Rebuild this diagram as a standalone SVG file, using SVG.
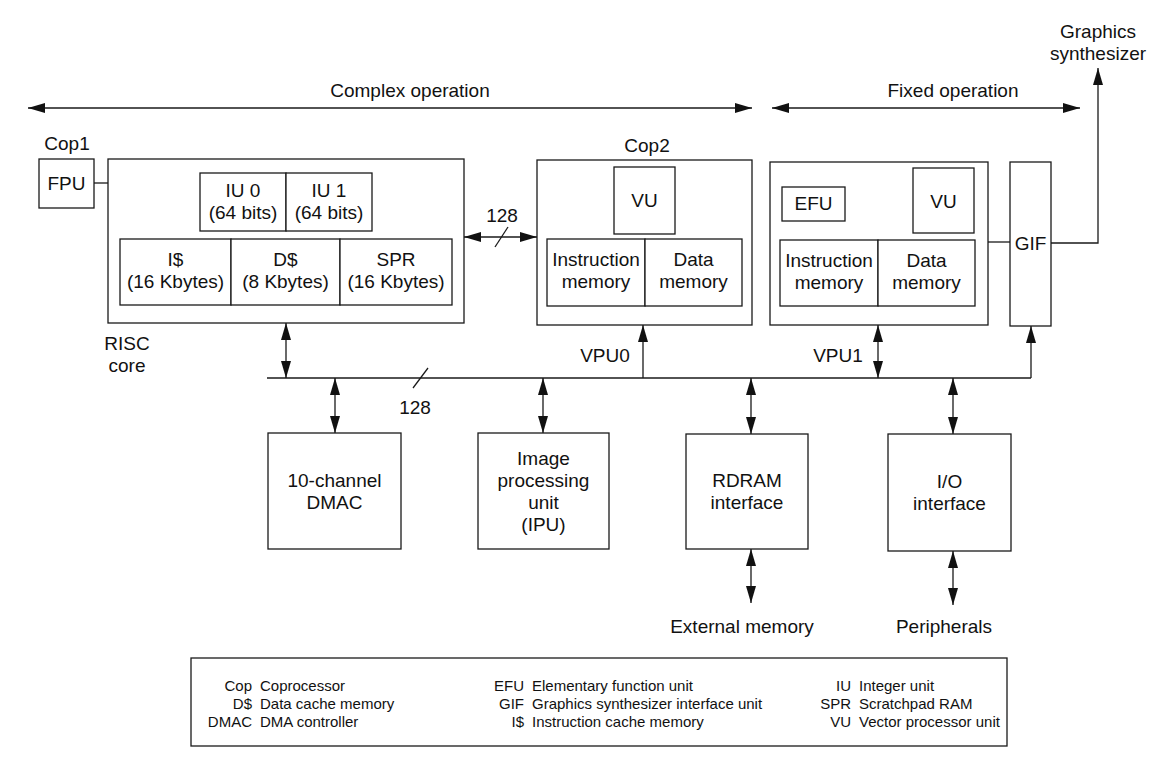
<svg xmlns="http://www.w3.org/2000/svg" width="1164" height="770" viewBox="0 0 1164 770">
<style>
  .box{fill:#fff;stroke:#1a1a1a;stroke-width:1.3}
  .ln{fill:none;stroke:#1a1a1a;stroke-width:1.3}
  .t{font-family:"Liberation Sans",Arial,sans-serif;font-size:19px;fill:#111;text-anchor:middle}
  .l{font-family:"Liberation Sans",Arial,sans-serif;font-size:15px;fill:#111}
  .r{text-anchor:end}
</style>
<defs>
  <marker id="ah" viewBox="0 0 17 10" refX="17" refY="5" markerWidth="17" markerHeight="10" markerUnits="userSpaceOnUse" orient="auto-start-reverse">
    <path d="M0,0 L17,5 L0,10 z" fill="#111"/>
  </marker>
</defs>
<rect x="0" y="0" width="1164" height="770" fill="#fff"/>

<g id="labels">
  <text class="t" x="410" y="97">Complex operation</text>
  <text class="t" x="953" y="97">Fixed operation</text>
  <text class="t" x="1098" y="38">Graphics</text>
  <text class="t" x="1098" y="60">synthesizer</text>
  <text class="t" x="67" y="150">Cop1</text>
  <text class="t" x="647" y="152">Cop2</text>
  <text class="t" x="127" y="350">RISC</text>
  <text class="t" x="127" y="372">core</text>
  <text class="t" x="605" y="362">VPU0</text>
  <text class="t" x="838" y="362">VPU1</text>
  <text class="t" x="502" y="222">128</text>
  <text class="t" x="415" y="414">128</text>
  <text class="t" x="742" y="633">External memory</text>
  <text class="t" x="944" y="633">Peripherals</text>
</g>

<g id="connectors">
  <line class="ln" x1="28" y1="108" x2="752" y2="108" marker-start="url(#ah)" marker-end="url(#ah)"/>
  <line class="ln" x1="772" y1="108" x2="1080" y2="108" marker-start="url(#ah)" marker-end="url(#ah)"/>
  <line class="ln" x1="94" y1="183" x2="108" y2="183"/>
  <line class="ln" x1="464" y1="237" x2="537" y2="237" marker-start="url(#ah)" marker-end="url(#ah)"/>
  <line class="ln" x1="495" y1="247" x2="508" y2="227"/>
  <line class="ln" x1="988" y1="242" x2="1010" y2="242"/>
  <polyline class="ln" points="1051,243 1098,243 1098,68" marker-end="url(#ah)"/>
  <line class="ln" x1="267" y1="378" x2="1031" y2="378"/>
  <line class="ln" x1="413" y1="388" x2="428" y2="368"/>
  <line class="ln" x1="286" y1="323" x2="286" y2="378" marker-start="url(#ah)" marker-end="url(#ah)"/>
  <line class="ln" x1="643" y1="378" x2="643" y2="325" marker-end="url(#ah)"/>
  <line class="ln" x1="878" y1="325" x2="878" y2="378" marker-start="url(#ah)" marker-end="url(#ah)"/>
  <line class="ln" x1="1031" y1="378" x2="1031" y2="326" marker-end="url(#ah)"/>
  <line class="ln" x1="335" y1="378" x2="335" y2="433" marker-start="url(#ah)" marker-end="url(#ah)"/>
  <line class="ln" x1="543" y1="378" x2="543" y2="433" marker-start="url(#ah)" marker-end="url(#ah)"/>
  <line class="ln" x1="751" y1="378" x2="751" y2="434" marker-start="url(#ah)" marker-end="url(#ah)"/>
  <line class="ln" x1="953" y1="378" x2="953" y2="434" marker-start="url(#ah)" marker-end="url(#ah)"/>
  <line class="ln" x1="751" y1="549" x2="751" y2="603" marker-start="url(#ah)" marker-end="url(#ah)"/>
  <line class="ln" x1="953" y1="551" x2="953" y2="605" marker-start="url(#ah)" marker-end="url(#ah)"/>
</g>

<g id="fpu">
  <rect class="box" x="39" y="159" width="55" height="49"/>
  <text class="t" x="66.5" y="190">FPU</text>
</g>

<g id="risc-core">
  <rect class="box" x="108" y="159" width="356" height="164"/>
</g>
<g id="iu0">
  <rect class="box" x="200" y="173" width="86" height="58"/>
  <text class="t" x="243" y="197">IU 0</text>
  <text class="t" x="243" y="219">(64 bits)</text>
</g>
<g id="iu1">
  <rect class="box" x="286" y="173" width="86" height="58"/>
  <text class="t" x="329" y="197">IU 1</text>
  <text class="t" x="329" y="219">(64 bits)</text>
</g>
<g id="icache">
  <rect class="box" x="120" y="239" width="111" height="66"/>
  <text class="t" x="175.5" y="266">I$</text>
  <text class="t" x="175.5" y="288">(16 Kbytes)</text>
</g>
<g id="dcache">
  <rect class="box" x="231" y="239" width="109" height="66"/>
  <text class="t" x="285.5" y="266">D$</text>
  <text class="t" x="285.5" y="288">(8 Kbytes)</text>
</g>
<g id="spr">
  <rect class="box" x="340" y="239" width="112" height="66"/>
  <text class="t" x="396" y="266">SPR</text>
  <text class="t" x="396" y="288">(16 Kbytes)</text>
</g>

<g id="vpu0">
  <rect class="box" x="537" y="160" width="215" height="165"/>
</g>
<g id="vpu0-vu">
  <rect class="box" x="614" y="167" width="61" height="67"/>
  <text class="t" x="644.5" y="207">VU</text>
</g>
<g id="vpu0-imem">
  <rect class="box" x="547" y="239" width="98" height="67"/>
  <text class="t" x="596" y="266">Instruction</text>
  <text class="t" x="596" y="288">memory</text>
</g>
<g id="vpu0-dmem">
  <rect class="box" x="645" y="239" width="97" height="67"/>
  <text class="t" x="693.5" y="266">Data</text>
  <text class="t" x="693.5" y="288">memory</text>
</g>

<g id="vpu1">
  <rect class="box" x="770" y="162" width="218" height="163"/>
</g>
<g id="efu">
  <rect class="box" x="782" y="187" width="63" height="34"/>
  <text class="t" x="813.5" y="210">EFU</text>
</g>
<g id="vpu1-vu">
  <rect class="box" x="913" y="168" width="61" height="65"/>
  <text class="t" x="943.5" y="208">VU</text>
</g>
<g id="vpu1-imem">
  <rect class="box" x="780" y="240" width="98" height="66"/>
  <text class="t" x="829" y="267">Instruction</text>
  <text class="t" x="829" y="289">memory</text>
</g>
<g id="vpu1-dmem">
  <rect class="box" x="878" y="240" width="97" height="66"/>
  <text class="t" x="926.5" y="267">Data</text>
  <text class="t" x="926.5" y="289">memory</text>
</g>

<g id="gif">
  <rect class="box" x="1010" y="162" width="41" height="164"/>
  <text class="t" x="1030.5" y="250">GIF</text>
</g>

<g id="dmac">
  <rect class="box" x="268" y="433" width="133" height="116"/>
  <text class="t" x="334.5" y="487">10-channel</text>
  <text class="t" x="334.5" y="509">DMAC</text>
</g>
<g id="ipu">
  <rect class="box" x="478" y="433" width="131" height="116"/>
  <text class="t" x="543.5" y="465">Image</text>
  <text class="t" x="543.5" y="487">processing</text>
  <text class="t" x="543.5" y="509">unit</text>
  <text class="t" x="543.5" y="531">(IPU)</text>
</g>
<g id="rdram">
  <rect class="box" x="686" y="434" width="122" height="115"/>
  <text class="t" x="747" y="487">RDRAM</text>
  <text class="t" x="747" y="509">interface</text>
</g>
<g id="io">
  <rect class="box" x="888" y="434" width="123" height="117"/>
  <text class="t" x="949.5" y="488">I/O</text>
  <text class="t" x="949.5" y="510">interface</text>
</g>

<g id="legend">
  <rect class="box" x="191" y="658" width="816" height="88"/>
  <text class="l r" x="252" y="691">Cop</text>
  <text class="l" x="260" y="691">Coprocessor</text>
  <text class="l r" x="252" y="709">D$</text>
  <text class="l" x="260" y="709">Data cache memory</text>
  <text class="l r" x="252" y="727">DMAC</text>
  <text class="l" x="260" y="727">DMA controller</text>
  <text class="l r" x="524" y="691">EFU</text>
  <text class="l" x="532" y="691">Elementary function unit</text>
  <text class="l r" x="524" y="709">GIF</text>
  <text class="l" x="532" y="709">Graphics synthesizer interface unit</text>
  <text class="l r" x="524" y="727">I$</text>
  <text class="l" x="532" y="727">Instruction cache memory</text>
  <text class="l r" x="851" y="691">IU</text>
  <text class="l" x="859" y="691">Integer unit</text>
  <text class="l r" x="851" y="709">SPR</text>
  <text class="l" x="859" y="709">Scratchpad RAM</text>
  <text class="l r" x="851" y="727">VU</text>
  <text class="l" x="859" y="727">Vector processor unit</text>
</g>
</svg>
